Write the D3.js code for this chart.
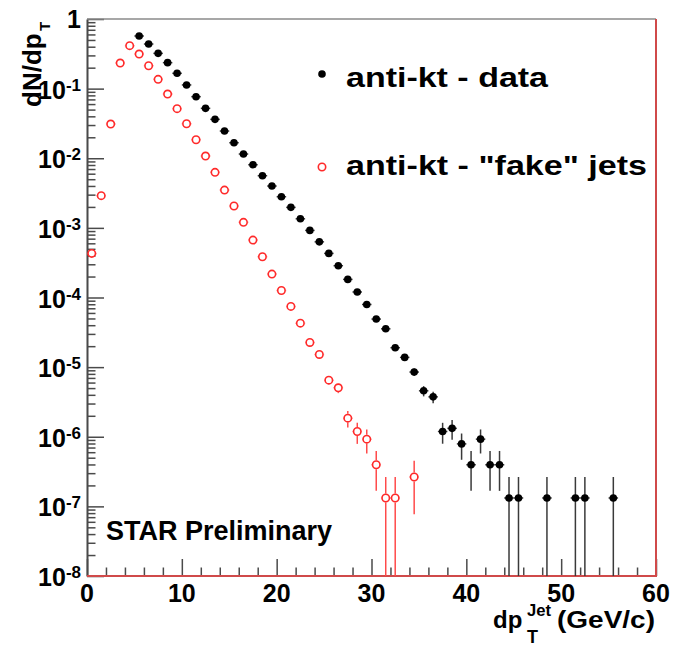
<!DOCTYPE html>
<html>
<head>
<meta charset="utf-8">
<script src="https://cdn.jsdelivr.net/npm/d3@7"></script>
<style>
  body { margin: 0; background: #fff; }
  svg { display: block; }
  text { font-family: "Liberation Sans", Arial, Helvetica, sans-serif; font-weight: bold; fill: #000; }
</style>
</head>
<body>
<svg id="chart" width="678" height="647"></svg>
<script>
// Jet pT spectra: measured anti-kt jets and "fake" jets (1 GeV/c bins, centres)
const dataPt = [5.5, 6.5, 7.5, 8.5, 9.5, 10.5, 11.5, 12.5, 13.5, 14.5, 15.5, 16.5, 17.5, 18.5, 19.5,
  20.5, 21.5, 22.5, 23.5, 24.5, 25.5, 26.5, 27.5, 28.5, 29.5, 30.5, 31.5, 32.5, 33.5, 34.5,
  35.5, 36.5, 37.5, 38.5, 39.5, 40.5, 41.5, 42.5, 43.5, 44.5, 45.5, 48.5, 51.5, 52.5, 55.5];
const dataVal = [0.57, 0.437, 0.321, 0.236, 0.166, 0.113, 0.0766, 0.0521, 0.0362, 0.0246, 0.0167, 0.0115,
  0.00807, 0.00561, 0.00399, 0.0028, 0.00197, 0.00135, 9.2e-4, 6.3e-4, 4.3e-4, 2.86e-4, 1.82e-4,
  1.2e-4, 7.94e-5, 4.9e-5, 3.55e-5, 1.9e-5, 1.38e-5, 8.5e-6, 4.57e-6, 3.74e-6, 1.19e-6, 1.32e-6,
  7.9e-7, 3.96e-7, 9.24e-7, 3.96e-7, 3.96e-7, 1.32e-7, 1.32e-7, 1.32e-7, 1.32e-7, 1.32e-7, 1.32e-7];
const dataErr = [2.7e-4, 2.4e-4, 2.1e-4, 1.8e-4, 1.5e-4, 1.2e-4, 1.0e-4, 8.3e-5, 6.9e-5, 5.7e-5, 4.7e-5,
  3.9e-5, 3.3e-5, 2.7e-5, 2.3e-5, 1.9e-5, 1.6e-5, 1.3e-5, 1.1e-5, 9.1e-6, 7.5e-6, 6.1e-6, 4.9e-6,
  4.0e-6, 3.2e-6, 2.5e-6, 2.2e-6, 1.6e-6, 1.35e-6, 1.06e-6, 7.7e-7, 7.0e-7, 3.96e-7, 4.17e-7,
  3.23e-7, 2.29e-7, 3.49e-7, 2.29e-7, 2.29e-7, 1.32e-7, 1.32e-7, 1.32e-7, 1.32e-7, 1.32e-7, 1.32e-7];

const fakePt = [0.5, 1.5, 2.5, 3.5, 4.5, 5.5, 6.5, 7.5, 8.5, 9.5, 10.5, 11.5, 12.5, 13.5, 14.5, 15.5,
  16.5, 17.5, 18.5, 19.5, 20.5, 21.5, 22.5, 23.5, 24.5, 25.5, 26.5, 27.5, 28.5, 29.5, 30.5,
  31.5, 32.5, 34.5];
const fakeVal = [4.3e-4, 2.9e-3, 0.031, 0.233, 0.414, 0.314, 0.213, 0.136, 0.0836, 0.0515, 0.0313,
  0.01845, 0.01076, 0.00627, 0.00349, 0.00206, 0.0012, 6.68e-4, 3.85e-4, 2.17e-4, 1.26e-4,
  7.44e-5, 4.28e-5, 2.26e-5, 1.52e-5, 6.5e-6, 5.05e-6, 1.85e-6, 1.19e-6, 9.24e-7, 3.96e-7,
  1.32e-7, 1.32e-7, 2.64e-7];
const fakeErr = [7.5e-6, 2.0e-5, 6.4e-5, 1.8e-4, 2.3e-4, 2.0e-4, 1.7e-4, 1.3e-4, 1.05e-4, 8.2e-5, 6.4e-5,
  4.9e-5, 3.8e-5, 2.9e-5, 2.1e-5, 1.65e-5, 1.26e-5, 9.4e-6, 7.1e-6, 5.4e-6, 4.1e-6, 3.1e-6,
  2.4e-6, 1.7e-6, 1.4e-6, 9.3e-7, 8.2e-7, 4.9e-7, 4.0e-7, 3.5e-7, 2.29e-7, 1.32e-7, 1.32e-7, 1.87e-7];

const xTickValues = [0, 10, 20, 30, 40, 50, 60];
const yDecades = [0, -1, -2, -3, -4, -5, -6, -7, -8];
const legendLabels = ["anti-kt - data", "anti-kt - \"fake\" jets"];

const svg = d3.select("#chart");
const L = 87, T = 19, R = 656, B = 576;

const x = d3.scaleLinear().domain([0, 60]).range([L, R]);
const y = d3.scaleLog().domain([1e-8, 1]).range([B, T]);

// minor tick positions
const xMinor = d3.range(0, 61, 2).filter(v => v % 10 !== 0);
const yMinor = [];
yDecades.slice(1).forEach(k => { for (let m = 2; m <= 9; m++) yMinor.push(m * Math.pow(10, k)); });

const axisColor = "#4a4a4a";

// left axis: major + minor ticks pointing inward
const gyMaj = svg.append("g").attr("transform", `translate(${L},0)`)
  .call(d3.axisLeft(y).tickValues(yDecades.map(k => Math.pow(10, k))).tickSizeInner(-17).tickSizeOuter(0).tickFormat(""));
const gyMin = svg.append("g").attr("transform", `translate(${L},0)`)
  .call(d3.axisLeft(y).tickValues(yMinor).tickSizeInner(-8.5).tickSizeOuter(0).tickFormat(""));
[gyMaj, gyMin].forEach(g => {
  g.selectAll("line").attr("stroke", axisColor).attr("stroke-width", 1.5);
  g.select(".domain").attr("stroke", axisColor).attr("stroke-width", 1.6);
});

// bottom axis
const gxMaj = svg.append("g").attr("transform", `translate(0,${B})`)
  .call(d3.axisBottom(x).tickValues(xTickValues).tickSizeInner(-17).tickSizeOuter(0).tickFormat(""));
const gxMin = svg.append("g").attr("transform", `translate(0,${B})`)
  .call(d3.axisBottom(x).tickValues(xMinor).tickSizeInner(-8.5).tickSizeOuter(0).tickFormat(""));
[gxMaj, gxMin].forEach(g => {
  g.selectAll("line").attr("stroke", axisColor).attr("stroke-width", 1.5);
  g.select(".domain").attr("stroke", "none");
});

// frame: grey top, red right and bottom
svg.append("line").attr("x1", L).attr("x2", R).attr("y1", T).attr("y2", T)
  .attr("stroke", "#8a8a8a").attr("stroke-width", 1.5);
svg.append("line").attr("x1", R).attr("x2", R).attr("y1", T).attr("y2", B + 1)
  .attr("stroke", "#d04a4a").attr("stroke-width", 2);
svg.append("line").attr("x1", L).attr("x2", R + 1).attr("y1", B).attr("y2", B)
  .attr("stroke", "#d04a4a").attr("stroke-width", 2);

// y tick labels: 1, 10^-1 ... 10^-8
yDecades.forEach(k => {
  const yy = y(Math.pow(10, k));
  const t = svg.append("text").attr("text-anchor", "end").attr("x", 81).attr("y", yy + 10)
    .attr("font-size", 25);
  if (k === 0) {
    t.attr("y", yy + 9).text("1");
  } else {
    t.append("tspan").text("10");
    t.append("tspan").attr("font-size", 17).attr("dy", -8).text(String(k));
  }
});

// x tick labels
xTickValues.forEach(v => {
  svg.append("text").attr("text-anchor", "middle").attr("x", x(v)).attr("y", 602)
    .attr("font-size", 25).text(v);
});

// axis titles
svg.append("text").attr("x", 493).attr("y", 628).attr("font-size", 24).text("dp");
svg.append("text").attr("x", 527).attr("y", 643).attr("font-size", 18).text("T");
svg.append("text").attr("x", 527).attr("y", 616).attr("font-size", 16)
  .attr("textLength", 24).attr("lengthAdjust", "spacingAndGlyphs").text("Jet");
svg.append("text").attr("x", 557).attr("y", 628).attr("font-size", 24)
  .attr("textLength", 98).attr("lengthAdjust", "spacingAndGlyphs").text("(GeV/c)");

const yTitle = svg.append("g").attr("transform", "translate(41,107) rotate(-90)");
yTitle.append("text").attr("x", 0).attr("y", 0).attr("font-size", 26).text("dN/dp");
yTitle.append("text").attr("x", 76).attr("y", 9).attr("font-size", 15).text("T");

// clipped plot area
svg.append("clipPath").attr("id", "plotClip").append("rect")
  .attr("x", L).attr("y", T).attr("width", R - L).attr("height", B - T);
const plot = svg.append("g").attr("clip-path", "url(#plotClip)");

const rOpen = 3.7, rFill = 3.8;

function drawSeries(pts, vals, errs, opts) {
  const rows = pts.map((p, i) => ({ p, v: vals[i], e: errs[i] }));
  const bars = plot.append("g").attr("stroke", opts.barColor).attr("stroke-width", 1.5);
  rows.forEach(d => {
    const cx = x(d.p), cy = y(d.v);
    const yTop = y(d.v + d.e);
    const yBot = d.v - d.e > 1e-9 ? y(d.v - d.e) : B + 2;
    const gap = opts.gap;
    if (cy - gap > yTop) bars.append("line").attr("x1", cx).attr("x2", cx).attr("y1", yTop).attr("y2", cy - gap);
    if (yBot > cy + gap) bars.append("line").attr("x1", cx).attr("x2", cx).attr("y1", cy + gap).attr("y2", yBot);
    const xl = x(d.p - 0.5), xr = x(d.p + 0.5);
    bars.append("line").attr("x1", xl).attr("x2", cx - gap).attr("y1", cy).attr("y2", cy);
    bars.append("line").attr("x1", cx + gap).attr("x2", xr).attr("y1", cy).attr("y2", cy);
  });
  const marks = plot.append("g");
  rows.forEach(d => {
    const c = marks.append("circle").attr("cx", x(d.p)).attr("cy", y(d.v));
    if (opts.open) c.attr("r", rOpen).attr("fill", "#fff").attr("stroke", opts.color).attr("stroke-width", 1.6);
    else c.attr("r", rFill).attr("fill", opts.color);
  });
}

drawSeries(fakePt, fakeVal, fakeErr, { open: true, color: "#ff2a2a", barColor: "#ff4a4a", gap: 4.4 });
drawSeries(dataPt, dataVal, dataErr, { open: false, color: "#000", barColor: "#3a3a3a", gap: 0 });

// legend
svg.append("circle").attr("cx", 322).attr("cy", 74).attr("r", rFill).attr("fill", "#000");
svg.append("circle").attr("cx", 322).attr("cy", 167).attr("r", rOpen).attr("fill", "#fff")
  .attr("stroke", "#ff2a2a").attr("stroke-width", 1.6);
svg.append("text").attr("x", 346).attr("y", 87).attr("font-size", 27)
  .attr("textLength", 202).attr("lengthAdjust", "spacingAndGlyphs").text(legendLabels[0]);
svg.append("text").attr("x", 346).attr("y", 175).attr("font-size", 27)
  .attr("textLength", 301).attr("lengthAdjust", "spacingAndGlyphs").text(legendLabels[1]);

// annotation
svg.append("text").attr("x", 106).attr("y", 540).attr("font-size", 27).text("STAR Preliminary");
</script>
</body>
</html>
